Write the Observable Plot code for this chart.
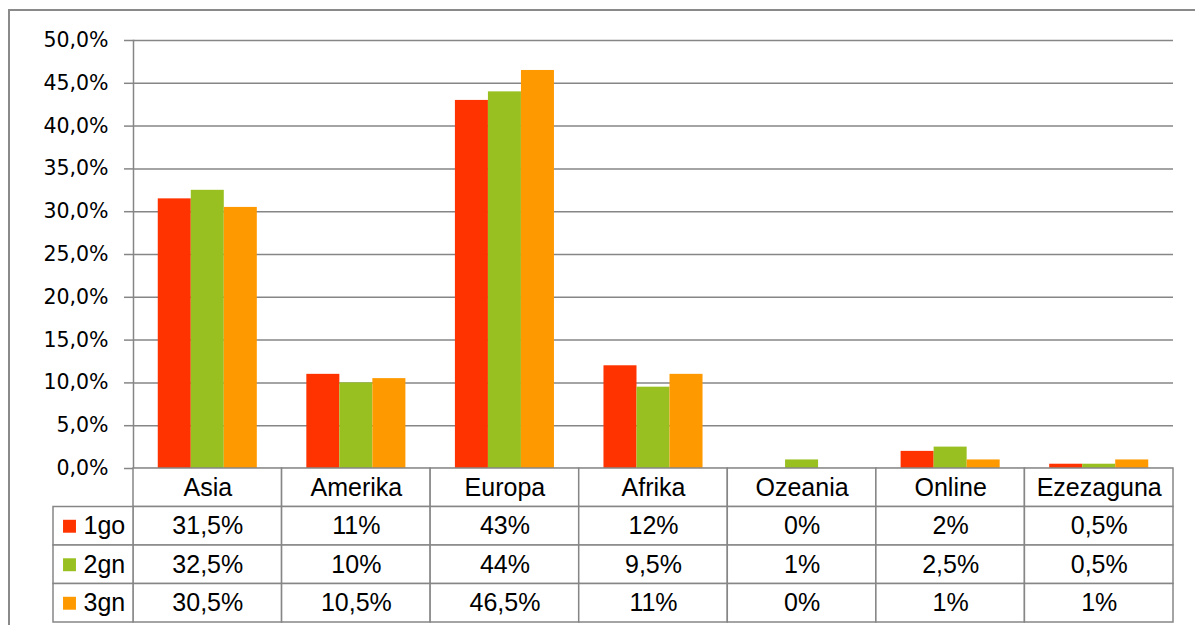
<!DOCTYPE html>
<html>
<head>
<meta charset="utf-8">
<script src="https://cdn.jsdelivr.net/npm/d3@7"></script>
<script src="https://cdn.jsdelivr.net/npm/@observablehq/plot@0.6"></script>
<style>
  html, body { margin: 0; padding: 0; background: #fff; overflow: hidden; }
  #wrap { position: relative; width: 1195px; height: 625px; }
  #border { position: absolute; left: 8px; top: 9px; width: 1300px; height: 800px;
            border-left: 2px solid #8a8a8a; border-top: 2px solid #8a8a8a; }
  #chart { position: absolute; left: 0; top: 0; }
  #table { position: absolute; left: 0; top: 460px; }
  svg { overflow: visible; }
</style>
</head>
<body>
<div id="wrap">
  <div id="border"></div>
  <div id="chart"></div>
  <div id="table"></div>
</div>
<script>
// ---- data ----
const categories = ["Asia", "Amerika", "Europa", "Afrika", "Ozeania", "Online", "Ezezaguna"];
const seriesNames = ["1go", "2gn", "3gn"];
const seriesColors = ["#FF3300", "#99C021", "#FF9900"];
const values1go = [31.5, 11, 43, 12, 0, 2, 0.5];
const values2gn = [32.5, 10, 44, 9.5, 1, 2.5, 0.5];
const values3gn = [30.5, 10.5, 46.5, 11, 0, 1, 1];
const yTicks = [0, 5, 10, 15, 20, 25, 30, 35, 40, 45, 50];

const seriesValues = [values1go, values2gn, values3gn];
const rows = [];
seriesNames.forEach((s, si) => categories.forEach((c, ci) =>
  rows.push({series: s, si, category: c, ci, value: seriesValues[si][ci]})));

const grid = "#868686";
const fmtAxis = d => d.toFixed(1).replace(".", ",") + "%";
const fmtCell = d => String(d).replace(".", ",") + "%";

// ---- chart ----
const BW = 1040 / 7 * (2 / 3); // group band width
const barMarks = seriesNames.map((s, si) =>
  Plot.barY(rows.filter(d => d.series === s), {
    x: "category", y: "value", fill: seriesColors[si],
    insetLeft: si * BW / 3, insetRight: (2 - si) * BW / 3
  }));

const chart = Plot.plot({
  width: 1195,
  height: 470,
  marginLeft: 133,
  marginRight: 22,
  marginTop: 40,
  marginBottom: 2,
  style: {fontFamily: "DejaVu Sans", fontSize: "20.5px", color: "#000", background: "transparent"},
  x: {domain: categories, paddingInner: 1/3, paddingOuter: 1/6, round: false, axis: null},
  y: {domain: [0, 50], ticks: yTicks},
  marks: [
    Plot.gridY(yTicks, {stroke: grid, strokeOpacity: 1, strokeWidth: 1.5}),
    ...barMarks,
    Plot.axisY(yTicks, {tickSize: 9, tickPadding: 16, tickFormat: fmtAxis, stroke: grid, strokeWidth: 1.5, label: null, fill: "#000"}),
    Plot.frame({anchor: "left", stroke: grid, strokeWidth: 1.5})
  ]
});
document.getElementById("chart").appendChild(chart);

// ---- data table ----
const LEGEND_W = 80 / (1040 / 7); // legend column width in column units
const cells = [];
categories.forEach((c, ci) => cells.push({col: ci, row: 0, text: c}));
rows.forEach(d => cells.push({col: d.ci, row: d.si + 1, text: fmtCell(d.value)}));
const legendCells = seriesNames.map((s, si) => ({row: si + 1, text: s, color: seriesColors[si]}));

const table = Plot.plot({
  width: 1195,
  height: 165,
  marginLeft: 53,
  marginRight: 22,
  marginTop: 8,
  marginBottom: 3,
  style: {fontFamily: "Liberation Sans, Arial, sans-serif", fontSize: "25px", color: "#000", background: "transparent"},
  x: {domain: [-LEGEND_W, 7], range: [53, 1173], axis: null},
  y: {domain: [0, 4], range: [8, 162], axis: null},
  marks: [
    Plot.rect(cells, {x1: "col", x2: d => d.col + 1, y1: "row", y2: d => d.row + 1,
      fill: "white", stroke: grid, strokeWidth: 1.5}),
    Plot.rect(legendCells, {x1: -LEGEND_W, x2: 0, y1: "row", y2: d => d.row + 1,
      fill: "white", stroke: grid, strokeWidth: 1.5}),
    Plot.text(cells, {x: d => d.col + 0.5, y: d => d.row + 0.5, text: "text", fill: "#000", fontSize: 25}),
    Plot.dot(legendCells, {x: -LEGEND_W, y: d => d.row + 0.5, dx: 16, symbol: "square", r: 7.3,
      fill: "color", stroke: "none"}),
    Plot.text(legendCells, {x: -LEGEND_W, y: d => d.row + 0.5, dx: 30, text: "text", textAnchor: "start",
      fill: "#000", fontSize: 25})
  ]
});
document.getElementById("table").appendChild(table);
</script>
</body>
</html>
